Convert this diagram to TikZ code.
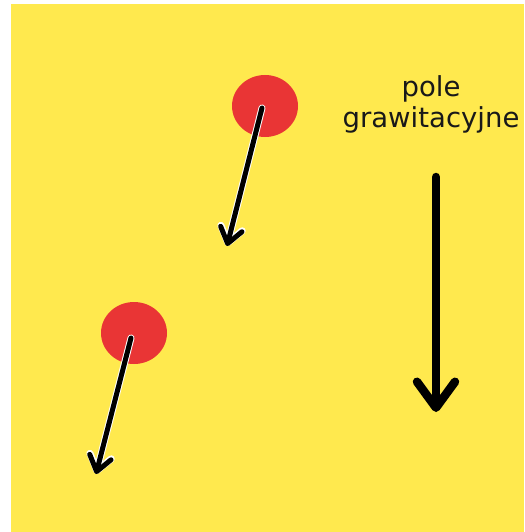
\documentclass[tikz,border=0pt]{standalone}
\usepackage{fontspec}
\setmainfont{DejaVu Sans}
\usetikzlibrary{arrows.meta,shapes.geometric}
\definecolor{bgyellow}{HTML}{FFE94E}
\definecolor{ballred}{HTML}{E93535}
\tikzset{
  ball/.style={ellipse,fill=ballred,draw=none,minimum width=66pt,minimum height=62pt,inner sep=0pt},
  smallarrow/.style={line width=5pt,line cap=round,line join=round,-{Straight Barb[length=15pt,width=22pt,round]},
     preaction={draw=white,line width=7pt,line cap=round,line join=round,-{Straight Barb[length=15pt,width=22pt,round]}}},
  bigarrow/.style={line width=8.5pt,line cap=round,line join=round,-{Straight Barb[length=26pt,width=38pt,round]}},
  label/.style={align=center,font=\fontsize{27.5}{31}\selectfont,text=black!90}
}
\begin{document}
\begin{tikzpicture}[x=1pt,y=-1pt]
\useasboundingbox (0,0) rectangle (524,532);
\fill[white] (0,0) rectangle (524,532);
\fill[bgyellow] (11,4) rectangle (524,532);
\node[ball] (b1) at (265,106) {};
\node[ball] (b2) at (134,333) {};
\coordinate (s1) at (262,108);
\coordinate (e1) at (227,246);
\coordinate (s2) at (131,338);
\coordinate (e2) at (96,474);
\draw[smallarrow] (s1) -- (e1);
\draw[smallarrow] (s2) -- (e2);
\node[label] (t) at (431,104) {pole\\grawitacyjne};
\coordinate (g1) at (436,177);
\coordinate (g2) at (436,412);
\draw[bigarrow] (g1) -- (g2);
\end{tikzpicture}
\end{document}
